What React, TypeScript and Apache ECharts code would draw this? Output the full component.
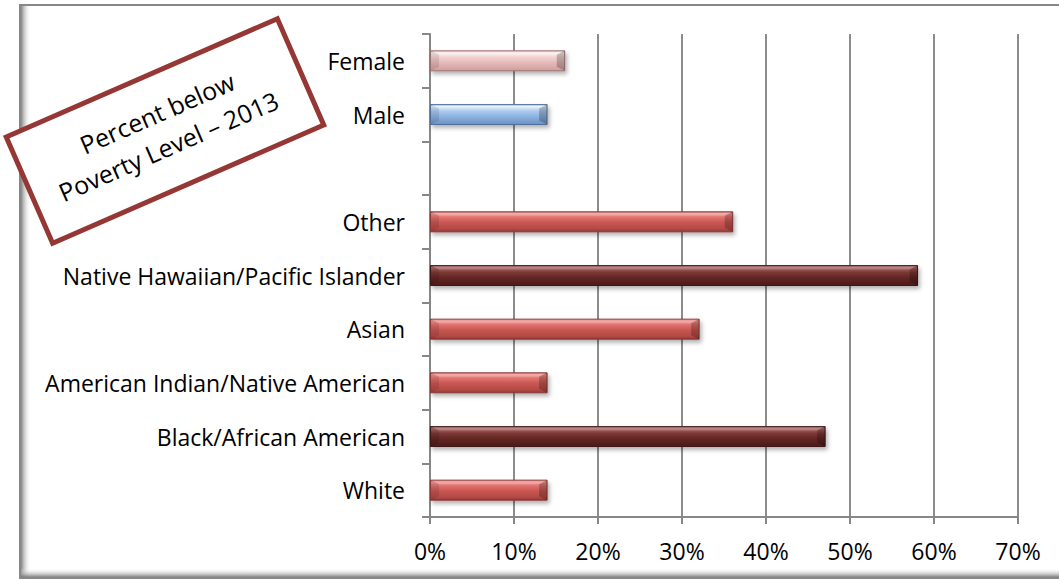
import React, { useEffect, useRef } from "react";
import * as echarts from "echarts";

const categories = [
  "White",
  "Black/African American",
  "American Indian/Native American",
  "Asian",
  "Native Hawaiian/Pacific Islander",
  "Other",
  "",
  "Male",
  "Female",
];
const values: (number | null)[] = [14, 47.1, 14, 32.1, 58.1, 36.1, null, 14, 16.1];
const xTicks = [0, 10, 20, 30, 40, 50, 60, 70];
const titleLines = ["Percent below", "Poverty Level \u2013 2013"];

const darkSet = new Set(["Black/African American", "Native Hawaiian/Pacific Islander"]);

function grad(stops: [number, string][]) {
  return new echarts.graphic.LinearGradient(
    0, 0, 0, 1,
    stops.map(([offset, color]) => ({ offset, color }))
  );
}

const styles: Record<string, any> = {
  red: {
    color: grad([[0, "#a94543"], [0.08, "#f59a96"], [0.3, "#de6f6b"], [0.55, "#c75551"], [0.85, "#b44a47"], [1, "#8e3835"]]),
    borderColor: "#8c3634",
  },
  dark: {
    color: grad([[0, "#6a2a28"], [0.1, "#ab6a68"], [0.35, "#7c3735"], [0.6, "#642624"], [1, "#4d1b1a"]]),
    borderColor: "#3e1514",
  },
  pink: {
    color: grad([[0, "#d8a8a7"], [0.1, "#fdf0f0"], [0.35, "#f0cfce"], [0.6, "#e6b9b8"], [1, "#cf9d9c"]]),
    borderColor: "#9a6f6e",
  },
  blue: {
    color: grad([[0, "#86a9d6"], [0.1, "#e0eefc"], [0.35, "#a9c8ee"], [0.6, "#8db3e2"], [1, "#6b90c0"]]),
    borderColor: "#4f6f99",
  },
};

function kindOf(name: string) {
  if (name === "Female") return "pink";
  if (name === "Male") return "blue";
  if (darkSet.has(name)) return "dark";
  return "red";
}

const BAR_H = 21;
const BEVEL = 8;

export default function App() {
  const ref = useRef<HTMLDivElement>(null);
  useEffect(() => {
    document.body.style.margin = "0";
    const chart = echarts.init(ref.current!, null, { renderer: "svg" });
    const font = "'Open Sans', sans-serif";
    const option: any = {
      animation: false,
      backgroundColor: "#ffffff",
      grid: { left: 430, right: 41, top: 34, bottom: 65, containLabel: false },
      xAxis: {
        type: "value",
        min: 0,
        max: 70,
        interval: 10,
        axisLine: { show: true, lineStyle: { color: "#878787", width: 2 } },
        axisTick: { show: true, length: 7, lineStyle: { color: "#878787", width: 2 } },
        splitLine: { show: true, lineStyle: { color: "#8c8c8c", width: 2 } },
        axisLabel: {
          formatter: (v: number) => (xTicks.includes(v) ? v + "%" : ""),
          color: "#000",
          fontSize: 23,
          fontFamily: font,
          margin: 22,
        },
      },
      yAxis: {
        type: "category",
        data: categories,
        axisLine: { show: true, lineStyle: { color: "#878787", width: 2 } },
        axisTick: { show: true, length: 8, lineStyle: { color: "#878787", width: 2 } },
        axisLabel: { color: "#000", fontSize: 23, fontFamily: font, margin: 25 },
      },
      series: [
        {
          type: "bar",
          barWidth: BAR_H,
          z: 2,
          data: categories.map((c, i) => ({
            value: values[i],
            itemStyle: {
              ...styles[kindOf(c)],
              borderWidth: 1,
              shadowBlur: 4,
              shadowOffsetX: 2,
              shadowOffsetY: 3,
              shadowColor: "rgba(0,0,0,0.3)",
            },
          })),
        },
        {
          type: "custom",
          z: 3,
          silent: true,
          data: categories
            .map((c, i) => [values[i], i])
            .filter((d) => d[0] != null),
          renderItem: (params: any, api: any) => {
            const v = api.value(0);
            const idx = api.value(1);
            const end = api.coord([v, idx]);
            const start = api.coord([0, idx]);
            const x0 = start[0] + 1;
            const x1 = end[0] - 0.5;
            const y0 = end[1] - BAR_H / 2 + 0.5;
            const y1 = end[1] + BAR_H / 2 - 0.5;
            const b = BEVEL;
            return {
              type: "group",
              children: [
                {
                  type: "polygon",
                  shape: { points: [[x0, y0], [x0 + b, y0 + 4], [x0 + b, y1 - 4], [x0, y1]] },
                  style: { fill: "rgba(0,0,0,0.10)" },
                },
                {
                  type: "polygon",
                  shape: { points: [[x0, y0], [x0 + b, y0 + 4], [x1 - b, y0 + 4], [x1, y0]] },
                  style: { fill: "rgba(255,255,255,0.18)" },
                },
                {
                  type: "polygon",
                  shape: { points: [[x1, y0], [x1 - b, y0 + 4], [x1 - b, y1 - 4], [x1, y1]] },
                  style: { fill: "rgba(0,0,0,0.22)" },
                },
              ],
            };
          },
        },
      ],
      graphic: [
        {
          type: "rect",
          z: -10,
          silent: true,
          shape: { x: 20, y: 5, width: 1045, height: 573 },
          style: { fill: "#ffffff", stroke: "#878787", lineWidth: 2 },
        },
        {
          type: "rect",
          z: -9,
          silent: true,
          shape: { x: 21, y: 6, width: 10, height: 571 },
          style: {
            fill: new echarts.graphic.LinearGradient(0, 0, 1, 0, [
              { offset: 0, color: "rgba(120,120,120,0.9)" },
              { offset: 1, color: "rgba(255,255,255,0)" },
            ]),
          },
        },
        {
          type: "rect",
          z: -9,
          silent: true,
          shape: { x: 21, y: 568, width: 1040, height: 9 },
          style: {
            fill: new echarts.graphic.LinearGradient(0, 1, 0, 0, [
              { offset: 0, color: "rgba(120,120,120,0.9)" },
              { offset: 1, color: "rgba(255,255,255,0)" },
            ]),
          },
        },
        {
          type: "group",
          x: 165,
          y: 131,
          rotation: (23.6 * Math.PI) / 180,
          z: 100,
          children: [
            {
              type: "rect",
              shape: { x: -148, y: -58, width: 296, height: 116 },
              style: { fill: "#ffffff", stroke: "#953735", lineWidth: 5 },
            },
            {
              type: "text",
              x: 0,
              y: -20,
              style: {
                text: titleLines[0],
                fill: "#000",
                font: "25px 'Open Sans', sans-serif",
                align: "center",
                verticalAlign: "middle",
              },
            },
            {
              type: "text",
              x: -3,
              y: 15,
              style: {
                text: titleLines[1],
                fill: "#000",
                font: "25px 'Open Sans', sans-serif",
                align: "center",
                verticalAlign: "middle",
              },
            },
          ],
        },
      ],
    };
    chart.setOption(option);
    return () => chart.dispose();
  }, []);
  return <div ref={ref} style={{ position: "absolute", left: 0, top: 0, width: 1059, height: 582 }} />;
}
